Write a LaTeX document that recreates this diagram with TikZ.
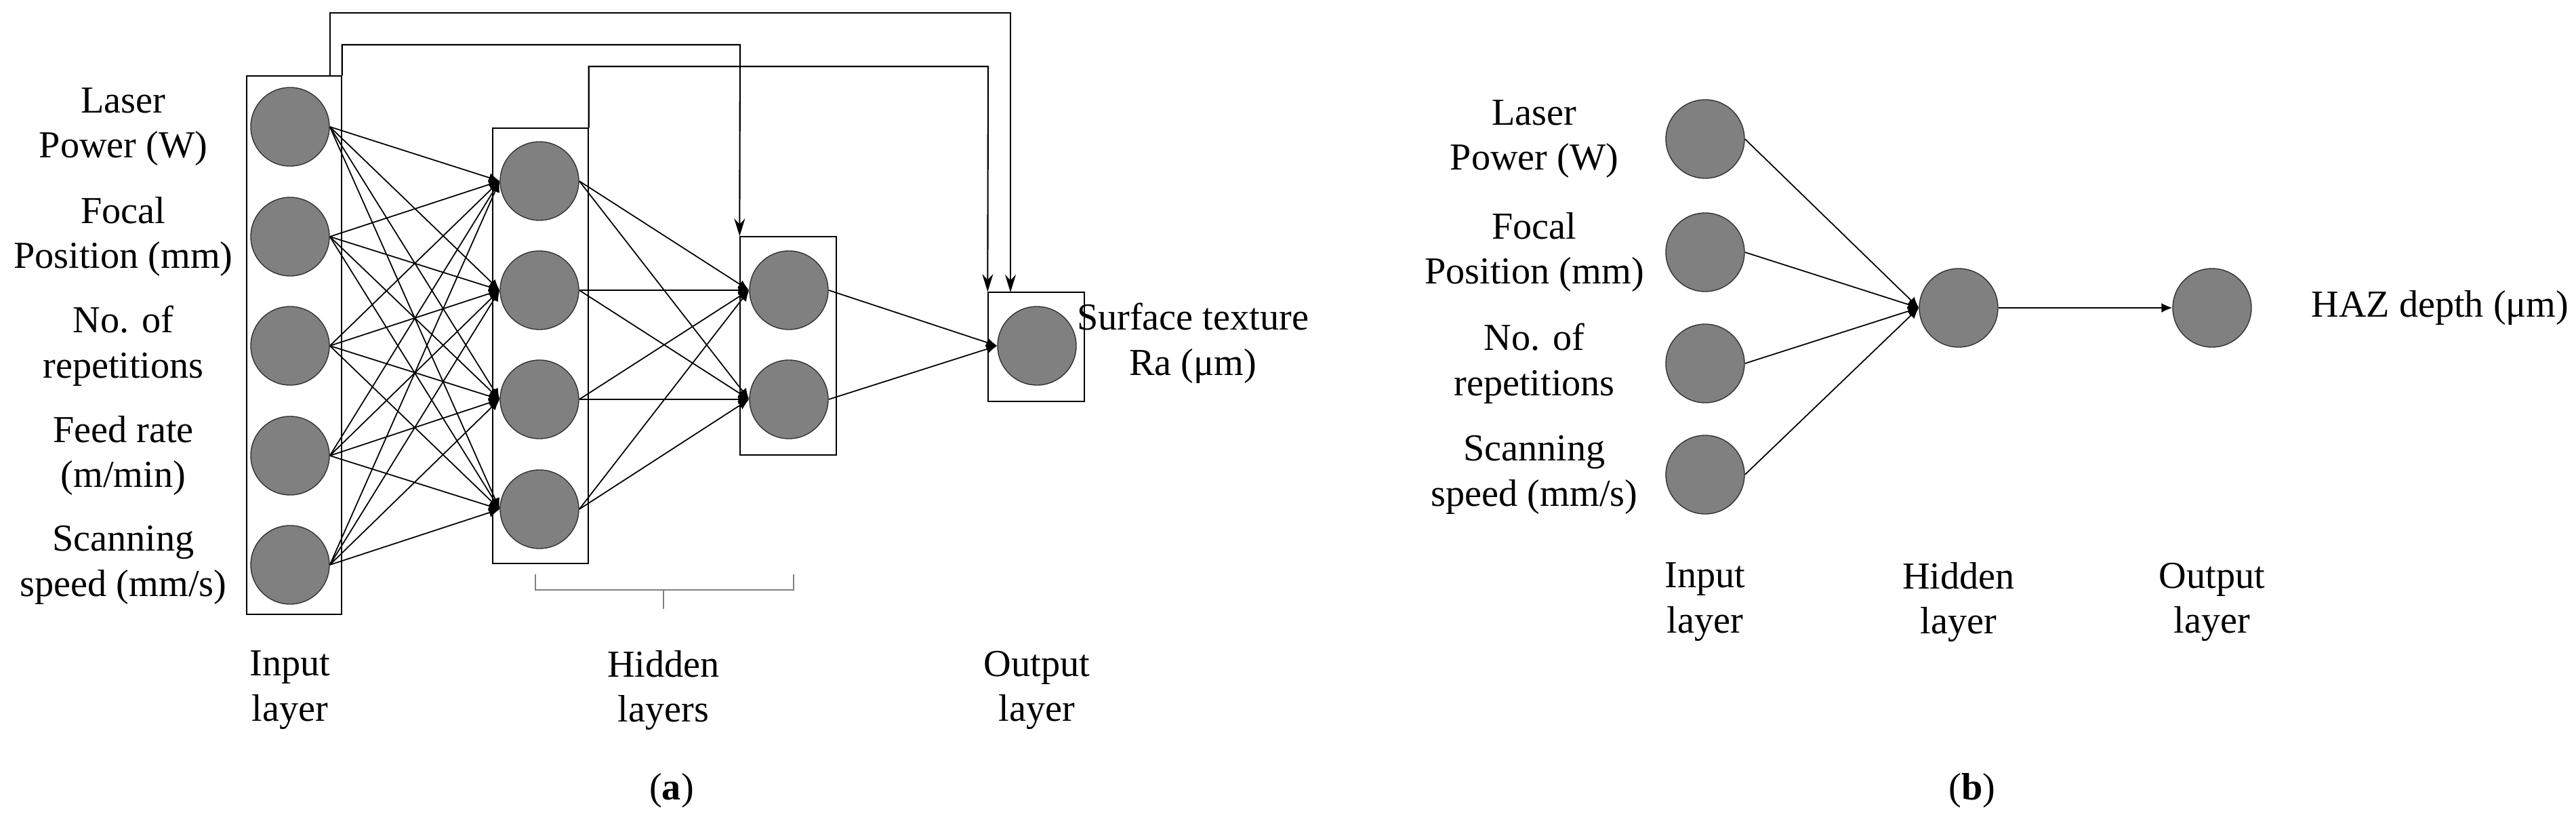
\documentclass[tikz,border=0pt]{standalone}
\usepackage{fontspec}
\setmainfont{Liberation Serif}
\usetikzlibrary{arrows.meta}

\tikzset{
    neuron/.style = {circle, draw = black!80, fill = black!50, minimum size = 1.16cm, inner sep = 0pt},
    layerbox/.style = {draw, rectangle, inner sep = 0pt},
    lbl/.style = {align = center, font = \fontsize{16}{19}\selectfont},
    link/.style = {-{Latex[length = 1.6mm, width = 1.4mm]}, line width = 0.5pt},
    skip/.style = {-{Stealth[length = 2.6mm, width = 1.6mm]}, line width = 0.6pt}
}

\begin{document}
\begin{tikzpicture}

        \useasboundingbox (0, 0) rectangle (38.01, -12.27);

        % panel (a)
        \node [layerbox, minimum width = 1.40cm, minimum height = 7.94cm] (inbox) at (4.34, -5.09) {};
        \node [layerbox, minimum width = 1.41cm, minimum height = 6.42cm] (hbox1) at (7.975, -5.10) {};
        \node [layerbox, minimum width = 1.42cm, minimum height = 3.22cm] (hbox2) at (11.63, -5.10) {};
        \node [layerbox, minimum width = 1.42cm, minimum height = 1.61cm] (outbox) at (15.29, -5.115) {};

        \foreach \i/\y in {1/1.87, 2/3.49, 3/5.10, 4/6.72, 5/8.33} {
                \node [neuron] (in\i) at (4.28, -\y) {};
            }
        \foreach \j/\y in {1/2.67, 2/4.28, 3/5.89, 4/7.51} {
                \node [neuron] (ha\j) at (7.96, -\y) {};
            }
        \foreach \k/\y in {1/4.28, 2/5.89} {
                \node [neuron] (hb\k) at (11.64, -\y) {};
            }
        \node [neuron] (out) at (15.30, -5.10) {};

        \foreach \i in {1, ..., 5} {
                \foreach \j in {1, ..., 4} {
                        \draw [link] (in\i.east) -- (ha\j.west);
                    }
            }
        \foreach \j in {1, ..., 4} {
                \foreach \k in {1, 2} {
                        \draw [link] (ha\j.east) -- (hb\k.west);
                    }
            }
        \foreach \k in {1, 2} {
                \draw [link] (hb\k.east) -- (out.west);
            }

        \coordinate (s1a) at (4.87, -1.12);
        \coordinate (s1b) at (14.91, -0.19);
        \coordinate (s1c) at (14.91, -4.31);
        \coordinate (s2) at (10.92, -0.66);
        \coordinate (s3) at (14.58, -0.98);
        \draw [skip] (s1a) |- (s1b) -- (s1c);
        \draw [skip] (inbox.north east) |- (s2) -- (hbox2.north west);
        \draw [skip] (hbox1.north east) |- (s3) -- (outbox.north west);

        \node [lbl] () at (1.82, -1.87) {Laser\\Power (W)};
        \node [lbl] () at (1.82, -3.49) {Focal\\Position (mm)};
        \node [lbl] () at (1.82, -5.10) {No. of\\repetitions};
        \node [lbl] () at (1.82, -6.72) {Feed rate\\(m/min)};
        \node [lbl] () at (1.82, -8.33) {Scanning\\speed (mm/s)};
        \node [lbl] () at (17.60, -5.06) {Surface texture\\Ra (μm)};

        \draw [gray, line width = 0.8pt] (7.90, -8.47) |- (11.71, -8.70) -- (11.71, -8.47)
        (9.79, -8.70) -- (9.79, -8.98);

        \node [lbl] () at (4.28, -10.18) {Input\\layer};
        \node [lbl] () at (9.79, -10.18) {Hidden\\layers};
        \node [lbl] () at (15.30, -10.18) {Output\\layer};
        \node [lbl] () at (9.91, -11.66) {(\textbf{a})};

        % panel (b)
        \foreach \i/\y in {1/2.05, 2/3.72, 3/5.36, 4/7.00} {
                \node [neuron] (bin\i) at (25.16, -\y) {};
            }
        \node [neuron] (bhid) at (28.90, -4.54) {};
        \node [neuron] (bout) at (32.64, -4.54) {};

        \foreach \i in {1, ..., 4} {
                \draw [link] (bin\i.east) -- (bhid.west);
            }
        \draw [link] (bhid.east) -- (bout.west);

        \node [lbl] () at (22.64, -2.05) {Laser\\Power (W)};
        \node [lbl] () at (22.64, -3.72) {Focal\\Position (mm)};
        \node [lbl] () at (22.64, -5.36) {No. of\\repetitions};
        \node [lbl] () at (22.64, -7.00) {Scanning\\speed (mm/s)};
        \node [lbl, anchor = west] () at (33.98, -4.54) {HAZ depth (μm)};

        \node [lbl] () at (25.16, -8.88) {Input\\layer};
        \node [lbl] () at (28.90, -8.88) {Hidden\\layer};
        \node [lbl] () at (32.64, -8.88) {Output\\layer};
        \node [lbl] () at (29.10, -11.66) {(\textbf{b})};

    \end{tikzpicture}
\end{document}
